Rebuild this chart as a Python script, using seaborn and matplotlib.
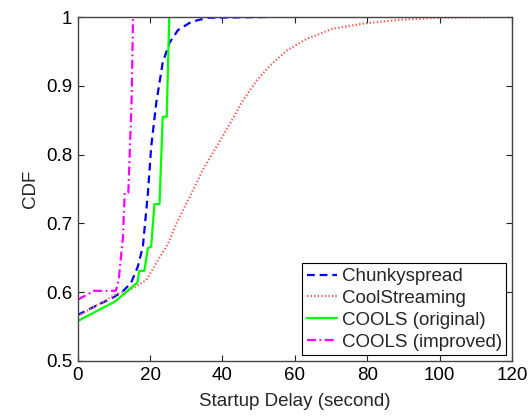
import matplotlib
matplotlib.use("Agg")
import matplotlib.pyplot as plt
import seaborn as sns
import numpy as np

# Data
chunky_x = [0, 10, 12.4, 14.7, 16.6, 18, 19.4, 20.3, 21.7, 23.5, 25.4, 27.7, 31.4, 36, 53]
chunky_y = [0.567, 0.593, 0.601, 0.613, 0.637, 0.666, 0.744, 0.811, 0.875, 0.934, 0.963, 0.981, 0.993, 0.999, 1.0]

cool_x = [0, 10.6, 14.5, 19, 21.8, 25, 27.3, 31, 34.6, 38.3, 42.2, 45.7, 49.4, 53, 57.7, 63.2, 70.5, 79.7, 88.9, 100, 120]
cool_y = [0.565, 0.597, 0.603, 0.618, 0.643, 0.671, 0.70, 0.739, 0.778, 0.811, 0.846, 0.879, 0.907, 0.929, 0.951, 0.968, 0.983, 0.991, 0.996, 0.999, 1.0]

orig_x = [0, 10.5, 14, 16.5, 17, 18.4, 19.4, 20.3, 21.2, 22.6, 23.5, 24.6, 25.3]
orig_y = [0.558, 0.587, 0.603, 0.614, 0.631, 0.631, 0.664, 0.666, 0.728, 0.728, 0.855, 0.855, 1.0]

impr_x = [0, 4.5, 10.5, 11.3, 12.5, 13, 14, 14.9, 15.3]
impr_y = [0.589, 0.602, 0.602, 0.617, 0.68, 0.745, 0.745, 0.88, 1.0]

labels = ["Chunkyspread", "CoolStreaming", "COOLS (original)", "COOLS (improved)"]
xticks = [0, 20, 40, 60, 80, 100, 120]
yticks = [0.5, 0.6, 0.7, 0.8, 0.9, 1.0]

sns.set_style("ticks")
plt.rcParams['font.family'] = ['Liberation Sans', 'DejaVu Sans']

fig = plt.figure(figsize=(5.3, 4.18), dpi=100)
ax = fig.add_axes([0.1466, 0.1364, 0.8194, 0.8229])

series = [
    (chunky_x, chunky_y, (0, 0, 1), (0, (3.5, 2.2))),
    (cool_x, cool_y, (1, 0.35, 0.35), (0, (0.6, 1.0))),
    (orig_x, orig_y, (0, 1, 0), '-'),
    (impr_x, impr_y, (1, 0, 1), (0, (4, 1.6, 0.8, 1.6))),
]
for (xs, ys, c, ls), lab in zip(series, labels):
    sns.lineplot(x=xs, y=ys, ax=ax, color=c, lw=1.6, label=lab, sort=False)
    ax.lines[-1].set_linestyle(ls)

ax.set_xlim(0, 120)
ax.set_ylim(0.5, 1.0)
ax.set_xticks(xticks)
ax.set_yticks(yticks)
ax.set_yticklabels(["0.5", "0.6", "0.7", "0.8", "0.9", "1"])
ax.tick_params(direction='in', top=True, right=True, labelsize=13.5, length=4,
               width=0.8, colors='#222222', labelcolor='black', pad=4)
for sp in ax.spines.values():
    sp.set_visible(True)
    sp.set_color('#444444')
    sp.set_linewidth(1.0)
ax.set_xlabel("Startup Delay (second)", fontsize=13.5, labelpad=7)
ax.set_ylabel("CDF", fontsize=13.5, labelpad=5)

leg = ax.legend(loc='lower right', fontsize=13.5, frameon=True, fancybox=False,
                edgecolor='black', handlelength=1.6, handletextpad=0.25,
                borderpad=0.25, labelspacing=0.25, borderaxespad=0.3)
leg.get_frame().set_linewidth(0.8)
leg.get_frame().set_alpha(1)

fig.savefig("out.png", dpi=100)
